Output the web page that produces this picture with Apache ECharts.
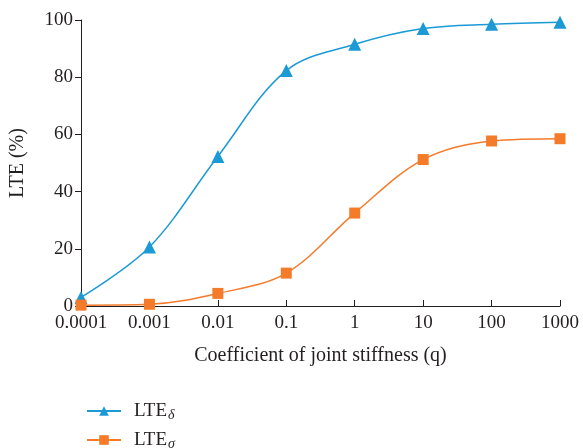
<!DOCTYPE html>
<html>
<head>
<meta charset="utf-8">
<script src="https://cdn.jsdelivr.net/npm/echarts@6/dist/echarts.min.js"></script>
<style>
  html, body { margin: 0; padding: 0; background: #fff; }
  #chart { width: 583px; height: 448px; }
</style>
</head>
<body>
<div id="chart"></div>
<script>
// Joint stiffness coefficients (log scale) and load transfer efficiency values
const stiffness = [0.0001, 0.001, 0.01, 0.1, 1, 10, 100, 1000];
const tickLabels = ['0.0001', '0.001', '0.01', '0.1', '1', '10', '100', '1000'];
const lteDelta = [3.0, 20.6, 52.3, 82.3, 91.5, 97.0, 98.5, 99.2];
const lteSigma = [0.3, 0.6, 4.4, 11.5, 32.5, 51.2, 57.7, 58.5];
const seriesNames = ['delta', 'sigma'];
const subscripts = { delta: 'δ', sigma: 'σ' };

const FONT = '"Liberation Serif", "DejaVu Serif", serif';
const AXIS_COLOR = '#231f20';

const pairs = (xs, ys) => xs.map((x, i) => [x, ys[i]]);

// One legend box per series, stacked vertically below the plot
const legendFor = (name, top) => ({
  orient: 'vertical',
  left: 81,
  top: top,
  itemWidth: 34,
  itemHeight: 12,
  data: [name],
  formatter: n => '{m|LTE}{s|' + subscripts[n] + '}',
  textStyle: {
    color: AXIS_COLOR,
    padding: [0, 0, 0, 8],
    rich: {
      m: { fontFamily: FONT, fontSize: 19, lineHeight: 20, color: AXIS_COLOR },
      s: { fontFamily: FONT, fontSize: 14, lineHeight: 20, fontStyle: 'italic', color: AXIS_COLOR, padding: [8, 0, 0, 1] }
    }
  }
});

const chart = echarts.init(document.getElementById('chart'));
chart.setOption({
  animation: false,
  grid: { left: 80, right: 23, top: 20, bottom: 142 },
  xAxis: {
    type: 'log',
    logBase: 10,
    min: 0.0001,
    max: 1000,
    name: 'Coefficient of joint stiffness (q)',
    nameLocation: 'middle',
    nameGap: 40,
    nameTextStyle: { fontFamily: FONT, fontSize: 20, color: AXIS_COLOR },
    axisLine: { lineStyle: { color: AXIS_COLOR, width: 1 } },
    axisTick: { inside: true, length: 6, lineStyle: { color: AXIS_COLOR } },
    minorTick: { show: false },
    splitLine: { show: false },
    axisLabel: {
      fontFamily: FONT, fontSize: 19, color: AXIS_COLOR, margin: 8,
      formatter: v => {
        const i = stiffness.findIndex(s => Math.abs(Math.log10(s) - Math.log10(v)) < 1e-6);
        return i >= 0 ? tickLabels[i] : '';
      }
    }
  },
  yAxis: {
    type: 'value',
    min: 0,
    max: 100,
    interval: 20,
    name: 'LTE (%)',
    nameLocation: 'middle',
    nameGap: 53,
    nameTextStyle: { fontFamily: FONT, fontSize: 20, color: AXIS_COLOR },
    axisLine: { show: true, lineStyle: { color: AXIS_COLOR, width: 1 } },
    axisTick: { show: true, length: 6, lineStyle: { color: AXIS_COLOR } },
    splitLine: { show: false },
    axisLabel: { fontFamily: FONT, fontSize: 19, color: AXIS_COLOR, margin: 8 }
  },
  legend: [legendFor(seriesNames[0], 395), legendFor(seriesNames[1], 424)],
  series: [
    {
      name: seriesNames[0],
      type: 'line',
      data: pairs(stiffness, lteDelta),
      smooth: 0.35,
      symbol: 'triangle',
      symbolSize: 13,
      itemStyle: { color: '#1b9ad6' },
      lineStyle: { color: '#1b9ad6', width: 1.5 }
    },
    {
      name: seriesNames[1],
      type: 'line',
      data: pairs(stiffness, lteSigma),
      smooth: 0.35,
      symbol: 'rect',
      symbolSize: 11,
      itemStyle: { color: '#f47b2a' },
      lineStyle: { color: '#f47b2a', width: 1.5 }
    }
  ]
});
</script>
</body>
</html>
